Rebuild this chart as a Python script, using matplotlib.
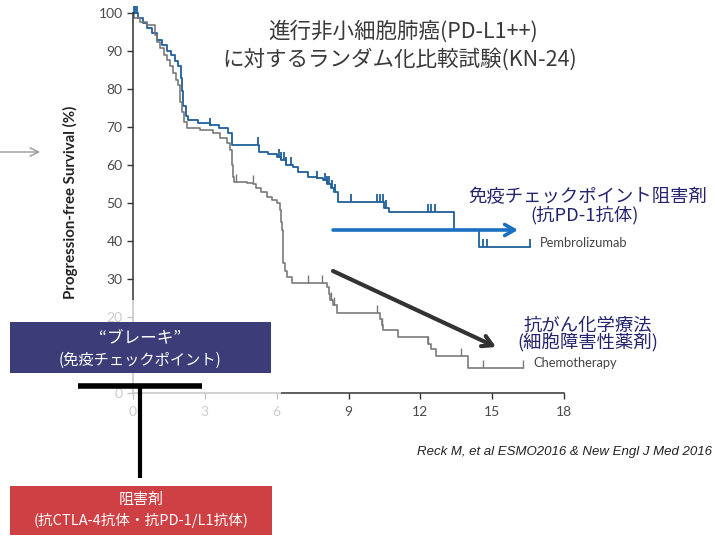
import numpy as np
import matplotlib
matplotlib.use("Agg")
import matplotlib.pyplot as plt
from matplotlib.patches import Rectangle

# data (months, % progression-free)
pembro_t = [0, 0.2, 0.4, 0.6, 0.8, 1.0, 1.2, 1.4, 1.6, 1.75, 1.9, 2.0, 2.05, 2.1, 2.2, 2.3,
            2.7, 3.2, 3.6, 3.97, 4.14, 5.25, 5.65, 6.0, 6.2, 6.4, 6.7, 6.9, 7.3, 7.7, 7.95,
            8.1, 8.25, 8.4, 8.55, 10.5, 10.7, 13.4, 14.45, 16.6]
pembro_s = [100, 98.8, 97.5, 96.2, 94.8, 93.0, 91.6, 90.2, 89.0, 87.5, 86.0, 83.0, 79.5, 75.5, 73.0, 71.8,
            71.1, 70.5, 69.7, 68.4, 65.3, 63.4, 63.0, 62.1, 61.3, 60.0, 59.5, 58.2, 56.8, 56.5, 56.0,
            55.0, 54.0, 53.0, 50.3, 48.8, 47.6, 42.9, 38.4, 38.4]
pembro_cens = [0.05, 0.1, 0.15, 3.2, 5.2, 6.1, 6.2, 6.3, 6.4, 6.6, 7.7, 8.0, 8.1, 8.2, 8.3, 8.45,
               9.1, 10.2, 10.3, 10.45, 10.55, 12.3, 12.45, 12.6, 14.6, 14.8, 16.6]

chemo_t = [0, 0.05, 0.3, 0.6, 0.9, 1.0, 1.13, 1.3, 1.42, 1.55, 1.67, 1.8, 1.88, 1.97, 2.05, 2.15,
           2.26, 2.8, 3.35, 3.64, 3.93, 4.06, 4.12, 4.16, 4.2, 4.77, 5.02, 5.15, 5.36, 5.6, 5.82,
           6.02, 6.15, 6.2, 6.23, 6.26, 6.28, 6.36, 6.44, 6.65, 8.12, 8.2, 8.24, 8.37, 8.54,
           10.3, 10.4, 10.46, 11.05, 12.3, 12.45, 12.64, 13.97, 16.3]
chemo_s = [100, 98.7, 97.8, 96.8, 94.2, 92.5, 90.8, 89.0, 87.6, 86.0, 84.2, 82.5, 81.0, 76.6, 74.0, 71.5,
           69.7, 69.2, 68.4, 67.1, 65.8, 63.9, 60.0, 56.8, 55.5, 55.3, 55.0, 53.9, 52.9, 51.6, 50.8,
           50.0, 48.2, 45.0, 42.9, 38.5, 34.2, 32.0, 30.5, 28.9, 27.9, 26.0, 24.5, 23.2, 21.1,
           19.5, 17.8, 16.6, 14.7, 13.0, 11.5, 9.7, 6.6, 6.6]
chemo_cens = [4.3, 5.0, 7.3, 7.9, 8.25, 8.4, 10.2, 10.4, 12.3, 13.7, 14.6, 16.3]

x_ticks = [0, 3, 6, 9, 12, 15, 18]
y_ticks = [0, 10, 20, 30, 40, 50, 60, 70, 80, 90, 100]

cjk = ["Noto Sans CJK JP", "DejaVu Sans"]
W, H = 715, 540


def at(t_list, s_list, times):
    # survival value of a step curve at the given times
    idx = np.searchsorted(np.array(t_list), np.array(times), side="right") - 1
    return np.array(s_list)[idx]


def fx(x):
    return x / W


def fy(y):
    return 1 - y / H


fig = plt.figure(figsize=(7.15, 5.4), dpi=100)
ax = fig.add_axes([fx(133), fy(393), fx(564) - fx(133), fy(13.3) - fy(393)])

blue = "#1f5f99"
grey = "#7a7a7a"
ax.step(pembro_t, pembro_s, where="post", color=blue, lw=1.3, clip_on=False)
ax.step(chemo_t, chemo_s, where="post", color=grey, lw=1.2, clip_on=False)
ax.plot(pembro_cens, at(pembro_t, pembro_s, pembro_cens) + 1, ls="none", marker="|",
        ms=6, mew=1.3, color=blue, clip_on=False)
ax.plot(chemo_cens, at(chemo_t, chemo_s, chemo_cens) + 1, ls="none", marker="|",
        ms=6, mew=1.0, color=grey, clip_on=False)

ax.set_xlim(0, 18)
ax.set_ylim(0, 100)
ax.set_xticks(x_ticks)
ax.set_yticks(y_ticks)
ax.spines["top"].set_visible(False)
ax.spines["right"].set_visible(False)
for s in ["left", "bottom"]:
    ax.spines[s].set_color("#333333")
    ax.spines[s].set_linewidth(1.1)
ax.tick_params(length=4, width=1, color="#333333", labelcolor="#4a4a4a", labelsize=10)
ax.tick_params(axis="x", pad=5)
for lab in ax.get_xticklabels() + ax.get_yticklabels():
    lab.set_family("Lato")
ax.patch.set_alpha(0)

fig.text(fx(70), fy(202), "Progression-free Survival (%)", rotation=90, ha="center",
         va="center", fontsize=10.8, fontweight="bold", color="#222222", family="Lato")

# faded lower-left corner of the slide
fig.add_artist(Rectangle((0, fy(420)), fx(281), fy(300) - fy(420), transform=fig.transFigure,
                         facecolor="white", edgecolor="none", alpha=0.72, zorder=2))

# title
fig.text(fx(403), fy(32), "進行非小細胞肺癌(PD-L1++)", ha="center", va="center",
         fontsize=15.5, color="#3a3a3a", family=cjk)
fig.text(fx(400), fy(59), "に対するランダム化比較試験(KN-24)", ha="center", va="center",
         fontsize=15.5, color="#3a3a3a", family=cjk)

# curve labels
fig.text(fx(540), fy(243), "Pembrolizumab", ha="left", va="center", fontsize=9.3,
         color="#444444", family="Lato")
fig.text(fx(533), fy(363), "Chemotherapy", ha="left", va="center", fontsize=9.3,
         color="#444444", family="Lato")

navy = "#24246e"
fig.text(fx(588), fy(197), "免疫チェックポイント阻害剤", ha="center", va="center",
         fontsize=13.2, color=navy, family=cjk)
fig.text(fx(585), fy(215), "(抗PD-1抗体)", ha="center", va="center",
         fontsize=13.2, color=navy, family=cjk)
fig.text(fx(588), fy(326), "抗がん化学療法", ha="center", va="center",
         fontsize=13.2, color=navy, family=cjk)
fig.text(fx(588), fy(343), "(細胞障害性薬剤)", ha="center", va="center",
         fontsize=13.2, color=navy, family=cjk)

# arrows (figure pixels, origin bottom-left)
ax.annotate("", xy=(518, H - 230), xytext=(333, H - 230), xycoords="figure pixels",
            arrowprops=dict(arrowstyle="->,head_length=0.7,head_width=0.4", lw=2.6,
                            color="#1a70c0", shrinkA=0, shrinkB=0), annotation_clip=False)
ax.annotate("", xy=(496, H - 347), xytext=(333, H - 271), xycoords="figure pixels",
            arrowprops=dict(arrowstyle="->,head_length=0.7,head_width=0.4", lw=3,
                            color="#333333", shrinkA=0, shrinkB=0), annotation_clip=False)
ax.annotate("", xy=(40, H - 152), xytext=(0, H - 152), xycoords="figure pixels",
            arrowprops=dict(arrowstyle="->,head_length=0.6,head_width=0.3", lw=1,
                            color="#999999", shrinkA=0, shrinkB=0), annotation_clip=False)

# brake box
fig.add_artist(Rectangle((fx(10), fy(373)), fx(271) - fx(10), fy(322) - fy(373),
                         transform=fig.transFigure, facecolor="#3c3c78", edgecolor="none", zorder=3))
fig.text(fx(140), fy(338), "“ブレーキ”", ha="center", va="center", fontsize=12,
         color="white", family=cjk, zorder=4)
fig.text(fx(140), fy(360), "(免疫チェックポイント)", ha="center", va="center", fontsize=11,
         color="white", family=cjk, zorder=4)

# inhibitor T
fig.add_artist(plt.Line2D([fx(78), fx(202)], [fy(386), fy(386)], transform=fig.transFigure,
                          color="black", lw=4, solid_capstyle="butt", zorder=3))
fig.add_artist(plt.Line2D([fx(140), fx(140)], [fy(386), fy(478)], transform=fig.transFigure,
                          color="black", lw=3, solid_capstyle="butt", zorder=3))

# inhibitor box
fig.add_artist(Rectangle((fx(10), fy(535)), fx(272) - fx(10), fy(486) - fy(535),
                         transform=fig.transFigure, facecolor="#cf4044", edgecolor="none", zorder=3))
fig.text(fx(141), fy(500), "阻害剤", ha="center", va="center", fontsize=10.8,
         color="white", family=cjk, zorder=4)
fig.text(fx(141), fy(521), "(抗CTLA-4抗体・抗PD-1/L1抗体)", ha="center", va="center",
         fontsize=10.5, color="white", family=cjk, zorder=4)

fig.text(fx(712), fy(452), "Reck M, et al ESMO2016 & New Engl J Med 2016", ha="right",
         va="center", fontsize=9.5, style="italic", color="#222222", family="Liberation Sans")

fig.savefig("out.png", dpi=100)
